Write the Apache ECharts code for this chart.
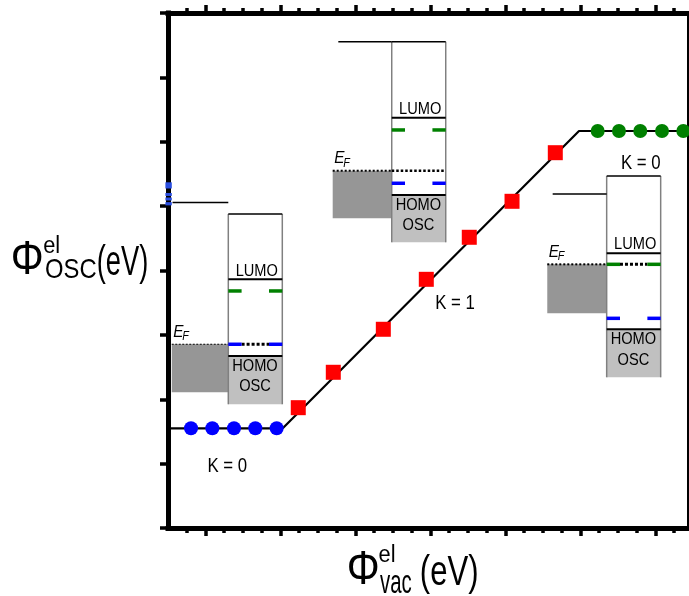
<!DOCTYPE html>
<html><head><meta charset="utf-8">
<script src="https://cdn.jsdelivr.net/npm/echarts@6/dist/echarts.min.js"></script>
<style>html,body{margin:0;padding:0;background:#fff}#c{width:689px;height:596px}</style>
</head><body><div id="c"></div>
<script>
// ---- main curve and markers (axis units) ----
const pathX = [-0.5, 1.03, 4.98, 6.45];
const pathY = [1.549, 1.549, 6.167, 6.167];
const blueX = [-0.193, 0.091, 0.38, 0.664, 0.949];
const blueY = [1.549, 1.549, 1.549, 1.549, 1.549];
const redX = [1.237, 1.704, 2.371, 2.944, 3.517, 4.087, 4.664];
const redY = [1.869, 2.419, 3.087, 3.863, 4.516, 5.075, 5.83];
const greenX = [5.229, 5.513, 5.797, 6.087, 6.371];
const greenY = [6.167, 6.167, 6.167, 6.167, 6.167];

// ---- axis ticks ----
const xMajorTicks = [0, 1, 2, 3, 4, 5, 6];
const xMinorTicks = [-0.25, 0.25, 0.5, 0.75, 1.25, 1.5, 1.75, 2.25, 2.5, 2.75, 3.25, 3.5, 3.75, 4.25, 4.5, 4.75, 5.25, 5.5, 5.75, 6.25];

// ---- inset energy diagrams (axis units) ----
const insetFermiLeft = [-0.45, 1.696, 4.557];
const insetVacMetalLeft = [-0.44, 1.771, 4.629];
const insetBoxLeft = [0.304, 2.483, 5.349];
const insetBoxRight = [1.024, 3.203, 6.069];
const insetVacMetal = [5.056, 7.554, 5.188];
const insetVacOsc = [4.878, 7.554, 5.468];
const insetLumo = [3.863, 6.374, 4.267];
const insetGreenLevel = [3.682, 6.183, 4.096];
const insetFermi = [2.854, 5.55, 4.096];
const insetBlueLevel = [2.854, 5.355, 3.257];
const insetHomo = [2.672, 5.173, 3.087];
const insetMetalBottom = [2.108, 4.811, 3.335];
const insetBoxBottom = [1.922, 4.438, 2.341];

// ---- K annotations ----
const kLabels = ['K = 0', 'K = 1', 'K = 0'];
const kLabelX = [0.291, 3.327, 5.804];
const kLabelY = [0.963, 3.495, 5.665];

// ---- blue marks on the left axis ----
const axisMarkTop = [5.37, 5.204, 5.134, 5.062];
const axisMarkBottom = [5.274, 5.158, 5.088, 5.012];

const FONT = '"Liberation Sans", Arial, sans-serif';

function textEl(x, y, text, size, sx, align, italic) {
  const font = (italic ? 'italic ' : '') + size + 'px ' + FONT;
  return {
    type: 'text', x: x, y: y, scaleX: sx,
    style: {
      text: text, font: font, fontSize: size, fontFamily: FONT, fontStyle: italic ? 'italic' : 'normal',
      fill: '#000', textFill: '#000',
      align: align, textAlign: align, verticalAlign: 'middle', textVerticalAlign: 'middle'
    }
  };
}
function lineEl(x1, y1, x2, y2, stroke, w, dash) {
  return { type: 'line', shape: { x1: x1, y1: y1, x2: x2, y2: y2 },
    style: { stroke: stroke, lineWidth: w, lineDash: dash || null, fill: null } };
}

function renderInset(params, api) {
  const i = params.dataIndex;
  const P = (x, y) => api.coord([x, y]);
  const L = insetBoxLeft[i], R = insetBoxRight[i];
  const pl = P(L, 0)[0], pr = P(R, 0)[0];
  const yv = v => P(0, v)[1];
  const ch = [];
  const rect = (x1, y1, x2, y2, fill) => {
    const a = P(x1, y1), b = P(x2, y2);
    return { type: 'rect', shape: { x: Math.min(a[0], b[0]), y: Math.min(a[1], b[1]),
      width: Math.abs(b[0] - a[0]), height: Math.abs(b[1] - a[1]) }, style: { fill: fill } };
  };
  ch.push(rect(insetFermiLeft[i], insetFermi[i], L, insetMetalBottom[i], '#969696'));
  ch.push(rect(L, insetHomo[i], R, insetBoxBottom[i], '#c0c0c0'));
  ch.push(lineEl(pl, yv(insetVacOsc[i]), pl, yv(insetBoxBottom[i]), '#808080', 1.5));
  ch.push(lineEl(pr, yv(insetVacOsc[i]), pr, yv(insetBoxBottom[i]), '#808080', 1.5));
  ch.push(lineEl(P(insetVacMetalLeft[i], 0)[0], yv(insetVacMetal[i]), pl, yv(insetVacMetal[i]), '#000', 1.5));
  ch.push(lineEl(pl, yv(insetVacOsc[i]), pr, yv(insetVacOsc[i]), '#000', 1.5));
  ch.push(lineEl(pl, yv(insetLumo[i]), pr, yv(insetLumo[i]), '#000', 2));
  ch.push(lineEl(pl, yv(insetHomo[i]), pr, yv(insetHomo[i]), '#000', 2));
  const yf = yv(insetFermi[i]);
  ch.push(lineEl(P(insetFermiLeft[i], 0)[0], yf, pl, yf, '#000', i === 0 ? 1.2 : 2, i === 0 ? [2, 1.5] : [2, 2]));
  const dl = 13.3;
  const pinned = insetFermi[i] === insetGreenLevel[i] || insetFermi[i] === insetBlueLevel[i];
  if (pinned) ch.push(lineEl(pl + dl, yf, pr - dl, yf, '#000', 3, [3, 2]));
  else ch.push(lineEl(pl, yf, pr, yf, '#000', 2.5, [2.5, 2]));
  const yg = yv(insetGreenLevel[i]), yb = yv(insetBlueLevel[i]);
  ch.push(lineEl(pl, yg, pl + dl, yg, '#008000', 3.5));
  ch.push(lineEl(pr - dl, yg, pr, yg, '#008000', 3.5));
  ch.push(lineEl(pl, yb, pl + dl, yb, '#0000ff', 3.5));
  ch.push(lineEl(pr - dl, yb, pr, yb, '#0000ff', 3.5));
  const cx = (pl + pr) / 2;
  ch.push(textEl(cx + 1.5, yv(insetLumo[i]) - 8.5, 'LUMO', 17, 0.86, 'center'));
  ch.push(textEl(cx - 0.3, yv(insetHomo[i]) + 10.3, 'HOMO', 17, 0.86, 'center'));
  ch.push(textEl(cx - 0.3, yv(insetHomo[i]) + 30.8, 'OSC', 17, 0.86, 'center'));
  const ex = P(insetFermiLeft[i], 0)[0] + 1.5, ey = yf - 12.4;
  ch.push(textEl(ex, ey, 'E', 17, 0.9, 'left', true));
  ch.push(textEl(ex + 9, ey + 5, 'F', 12, 0.9, 'left', true));
  return { type: 'group', children: ch };
}

function renderK(params, api) {
  const i = params.dataIndex;
  const p = api.coord([kLabelX[i], kLabelY[i]]);
  return textEl(p[0], p[1], kLabels[i], 21, 0.8, 'center');
}

function renderMark(params, api) {
  const i = params.dataIndex;
  const a = api.coord([-0.5, axisMarkTop[i]]);
  const b = api.coord([-0.5, axisMarkBottom[i]]);
  return { type: 'rect', shape: { x: a[0] - 2.6, y: a[1], width: 6.4, height: b[1] - a[1] },
    style: { fill: '#2a4ee0' } };
}

function xa(pos, ticks, len, showLine) {
  return {
    type: 'value', position: pos, min: -0.5, max: 6.4467,
    axisLine: { show: showLine, onZero: false, lineStyle: { color: '#000', width: 5, cap: 'square' } },
    axisTick: { show: true, inside: false, length: len, customValues: ticks, lineStyle: { color: '#000', width: 3.5 } },
    axisLabel: { show: false }, splitLine: { show: false }
  };
}

const chart = echarts.init(document.getElementById('c'));
chart.setOption({
  animation: false,
  backgroundColor: '#fff',
  grid: { left: 168, right: 0, top: 13, bottom: 68, containLabel: false },
  xAxis: [
    xa('bottom', xMajorTicks, 8, true),
    xa('bottom', xMinorTicks, 5, false),
    xa('top', xMajorTicks, 8, true),
    xa('top', xMinorTicks, 5, false)
  ],
  yAxis: [
    { type: 'value', position: 'left', min: 0, max: 8, interval: 1,
      axisLine: { show: true, onZero: false, lineStyle: { color: '#000', width: 5, cap: 'square' } },
      axisTick: { show: true, inside: false, length: 8, lineStyle: { color: '#000', width: 3.5 } },
      axisLabel: { show: false }, splitLine: { show: false } },
    { type: 'value', position: 'right', min: 0, max: 8, interval: 1,
      axisLine: { show: true, onZero: false, lineStyle: { color: '#000', width: 4 } },
      axisTick: { show: false }, axisLabel: { show: false }, splitLine: { show: false } }
  ],
  graphic: [
    textEl(27.2, 261, 'Φ', 48, 0.86, 'center'),
    textEl(51.7, 247, 'el', 23, 0.95, 'center'),
    textEl(70.8, 270, 'OSC', 28, 0.85, 'center'),
    textEl(122.5, 263.7, '(eV)', 42, 0.65, 'center'),
    textEl(363.3, 571, 'Φ', 48, 0.86, 'center'),
    textEl(387, 555.3, 'el', 23, 0.95, 'center'),
    textEl(395.8, 583.2, 'vac', 34, 0.6, 'center'),
    textEl(449.2, 573.5, '(eV)', 42, 0.74, 'center')
  ],
  series: [
    { type: 'custom', renderItem: renderInset, coordinateSystem: 'cartesian2d',
      data: insetBoxLeft.map((x, i) => [x, insetLumo[i]]), z: 1, silent: true },
    { type: 'line', data: pathX.map((x, i) => [x, pathY[i]]), symbol: 'none',
      lineStyle: { color: '#000', width: 2.2 }, z: 2 },
    { type: 'scatter', data: blueX.map((x, i) => [x, blueY[i]]), symbol: 'circle', symbolSize: 14,
      itemStyle: { color: '#0000ff', opacity: 1 }, z: 3 },
    { type: 'scatter', data: redX.map((x, i) => [x, redY[i]]), symbol: 'rect', symbolSize: 15,
      itemStyle: { color: '#ff0000', opacity: 1 }, z: 3 },
    { type: 'scatter', data: greenX.map((x, i) => [x, greenY[i]]), symbol: 'circle', symbolSize: 14,
      itemStyle: { color: '#008000', opacity: 1 }, z: 3 },
    { type: 'custom', renderItem: renderK, coordinateSystem: 'cartesian2d',
      data: kLabelX.map((x, i) => [x, kLabelY[i]]), z: 4, silent: true },
    { type: 'custom', renderItem: renderMark, coordinateSystem: 'cartesian2d',
      data: axisMarkTop.map((y, i) => [-0.5, y]), z: 4, silent: true }
  ]
});
</script></body></html>
